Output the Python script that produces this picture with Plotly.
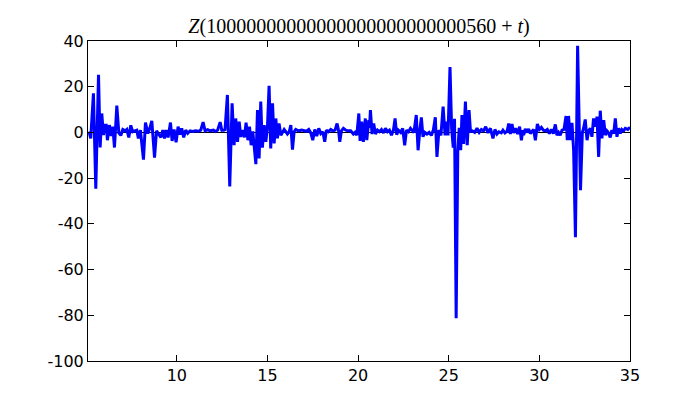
import plotly.graph_objects as go

# Data (t, Z values)
t_vals = [
    5.10, 5.18, 5.25, 5.40, 5.53, 5.68, 5.77, 5.86, 5.95, 6.03, 6.07, 6.10, 6.17, 6.28, 6.38, 6.47,
    6.56, 6.69, 6.80, 6.91, 7.02, 7.15, 7.24, 7.35, 7.46, 7.57, 7.68, 7.79, 7.88, 7.99, 8.16, 8.27,
    8.40, 8.51, 8.62, 8.77, 8.88, 9.01, 9.12, 9.23, 9.32, 9.41, 9.52, 9.65, 9.74, 9.85, 9.96, 10.07,
    10.18, 10.27, 10.38, 10.49, 10.60, 10.73, 10.88, 11.03, 11.19, 11.32, 11.45, 11.56, 11.70, 11.84,
    12.02, 12.14, 12.25, 12.39, 12.48, 12.59, 12.66, 12.79, 12.92, 13.05, 13.16, 13.25, 13.35, 13.44,
    13.53, 13.62, 13.73, 13.82, 13.92, 14.01, 14.10, 14.19, 14.28, 14.36, 14.45, 14.54, 14.63, 14.72,
    14.82, 14.91, 15.00, 15.09, 15.18, 15.28, 15.37, 15.46, 15.55, 15.64, 15.74, 15.83, 15.92, 16.01,
    16.10, 16.20, 16.29, 16.38, 16.47, 16.56, 16.71, 16.89, 17.04, 17.15, 17.28, 17.39, 17.50, 17.61,
    17.72, 17.83, 17.94, 18.05, 18.16, 18.25, 18.36, 18.49, 18.61, 18.73, 18.84, 18.92, 18.99, 19.08,
    19.19, 19.32, 19.45, 19.59, 19.74, 19.83, 19.93, 20.04, 20.11, 20.20, 20.29, 20.40, 20.48, 20.59,
    20.63, 20.68, 20.77, 20.86, 20.96, 21.07, 21.18, 21.29, 21.40, 21.51, 21.62, 21.73, 21.84, 21.95,
    22.04, 22.13, 22.22, 22.35, 22.46, 22.57, 22.67, 22.78, 22.89, 23.00, 23.08, 23.21, 23.31, 23.40,
    23.49, 23.58, 23.68, 23.80, 23.92, 24.04, 24.15, 24.26, 24.35, 24.46, 24.57, 24.69, 24.80, 24.87,
    24.96, 25.07, 25.16, 25.25, 25.32, 25.41, 25.50, 25.58, 25.66, 25.73, 25.82, 25.92, 26.02, 26.12,
    26.20, 26.30, 26.43, 26.56, 26.68, 26.80, 26.92, 27.04, 27.17, 27.30, 27.44, 27.55, 27.66, 27.77,
    27.90, 27.99, 28.10, 28.22, 28.31, 28.40, 28.49, 28.58, 28.69, 28.80, 28.91, 29.01, 29.08, 29.13,
    29.22, 29.32, 29.41, 29.50, 29.59, 29.68, 29.78, 29.89, 30.00, 30.11, 30.22, 30.33, 30.44, 30.55,
    30.66, 30.77, 30.88, 30.97, 31.06, 31.15, 31.25, 31.36, 31.47, 31.54, 31.61, 31.71, 31.80, 31.89,
    31.99, 32.11, 32.27, 32.37, 32.44, 32.53, 32.63, 32.72, 32.81, 32.90, 32.99, 33.09, 33.18, 33.27,
    33.36, 33.45, 33.55, 33.64, 33.73, 33.78, 33.91, 34.00, 34.10, 34.19, 34.28, 34.37, 34.46, 34.55,
    34.65, 34.74, 34.88, 34.98, 35.00,
]
z_vals = [
    0.0, -0.4, -2.6, 17.1, -24.6, 25.2, -6.6, 8.3, -1.2, 3.7, 0.5, 3.7, -3.4, 3.2, -1.6, 2.5,
    -6.6, 11.7, -0.2, -1.3, 1.3, 0.7, 1.3, -2.2, 3.1, 0.3, 0.7, 1.0, -2.6, 1.0, -11.9, 4.3,
    -0.4, 1.8, 5.1, -11.0, 0.7, -0.7, -2.2, 1.0, -2.6, 1.0, -2.2, 4.3, -3.7, 1.3, -4.3, 2.5,
    -1.0, 1.8, -2.2, 1.0, -0.4, 0.7, 0.4, 0.7, 0.5, 1.0, 4.5, 0.7, 1.2, 0.7,
    1.0, 0.4, 1.0, 4.5, 1.0, 1.0, 1.3, 16.4, -23.6, 12.7, -5.6, 6.1, -4.1, 4.7,
    -1.9, 1.0, -2.2, 4.3, -3.4, 2.5, -5.6, 0.5, -6.3, -13.9, 9.8, -11.4, 13.5, -6.6,
    3.2, -4.1, 2.5, 20.4, -7.0, 12.7, -4.8, 6.1, -2.6, 3.9, -1.2, 0.3, 1.3, 0.3,
    -0.7, 0.3, 3.2, -7.5, 0.3, 1.3, 0.7, 1.0, 0.7, 0.5, 1.3, -0.2, -3.4, 1.3,
    -1.6, 1.8, -0.5, 0.3, -4.1, 1.0, 0.3, 1.3, 0.7, 1.0, 3.9, 1.0, -4.1, 0.7,
    1.8, 1.0, 0.7, 0.7, -0.7, 0.0, -1.2, 8.3, -3.7, 4.7, -4.1, 6.1, -3.4, 5.4,
    2.0, 9.8, -0.7, 3.9, -0.7, 1.0, 0.3, 1.3, -0.2, 1.8, 0.3, 1.0, -1.2, 1.0,
    6.1, -1.0, 1.0, 0.0, 1.8, -5.6, 1.0, 0.3, 1.8, 0.7, 0.0, 7.6, -7.8, 0.5,
    6.6, -1.9, 0.0, -0.7, 0.0, -1.3, 1.0, 6.6, -10.7, 1.0, -1.3, 11.3, -1.3, 4.7,
    -1.3, 28.6, 1.8, -6.6, 6.0, -81.3, -8.0, 2.0, -7.8, 7.6, -5.0, 13.5, -5.6, 9.8,
    0.5, 0.7, 0.0, 1.8, 0.0, 1.3, 0.7, 2.5, -0.2, 1.8, -2.6, 1.3, -0.7, 0.3,
    -0.2, 1.0, -0.2, 0.5, 3.9, -0.7, 3.7, -0.2, 1.8, -0.7, 2.5, -3.4, 1.0, -1.2,
    1.5, 0.0, 1.5, -0.5, 0.3, 1.3, -3.4, 3.7, 1.3, 2.2, 1.0, 0.7, 1.3, -0.5,
    1.3, -0.5, 3.5, -1.2, 0.0, -1.2, 1.0, 1.3, 7.2, -3.4, 7.2, -3.4, 4.2, -7.8,
    -45.9, 37.9, -25.3, 0.0, 1.8, 5.7, -3.4, 0.7, 1.8, -1.9, 6.1, 2.5, 6.9, -10.7,
    9.5, -2.6, 5.4, -1.2, 0.7, 0.3, -2.2, 1.0, -0.5, 6.1, -1.9, 1.8, -0.5, 1.3,
    0.7, 1.8, 1.3, 2.2, 1.5,
]

x_tick_vals = [10, 15, 20, 25, 30, 35]
x_tick_labels = ["10", "15", "20", "25", "30", "35"]
y_tick_vals = [-100, -80, -60, -40, -20, 0, 20, 40]
y_tick_labels = ["-100", "-80", "-60", "-40", "-20", "0", "20", "40"]

title_text = "<i>Z</i>(10000000000000000000000000560 + <i>t</i>)"

fig = go.Figure()
fig.add_trace(go.Scatter(
    x=t_vals, y=z_vals, mode="lines",
    line=dict(color="#0000ff", width=3),
    showlegend=False,
))

axis_common = dict(
    showline=True, linecolor="black", linewidth=1, mirror="ticks",
    ticks="inside", ticklen=6, tickwidth=1, tickcolor="black",
    showgrid=False,
    tickfont=dict(family="DejaVu Sans", size=16, color="black"),
)

fig.update_xaxes(range=[5.1, 35], tickvals=x_tick_vals, ticktext=x_tick_labels,
                 zeroline=False, **axis_common)
fig.update_yaxes(range=[-100, 40], tickvals=y_tick_vals, ticktext=y_tick_labels,
                 zeroline=True, zerolinecolor="black", zerolinewidth=1, **axis_common)

# the page body adds an 8px offset, so margins are shifted to compensate
fig.update_layout(
    width=700, height=400,
    margin=dict(l=80, r=78, t=33, b=47),
    paper_bgcolor="white", plot_bgcolor="white",
    title=dict(text=title_text, x=0.5, xref="paper", y=1 - 18 / 400, yref="container",
               xanchor="center", yanchor="middle",
               font=dict(family="Liberation Serif", size=20, color="black")),
)

fig.write_html("out.html")
